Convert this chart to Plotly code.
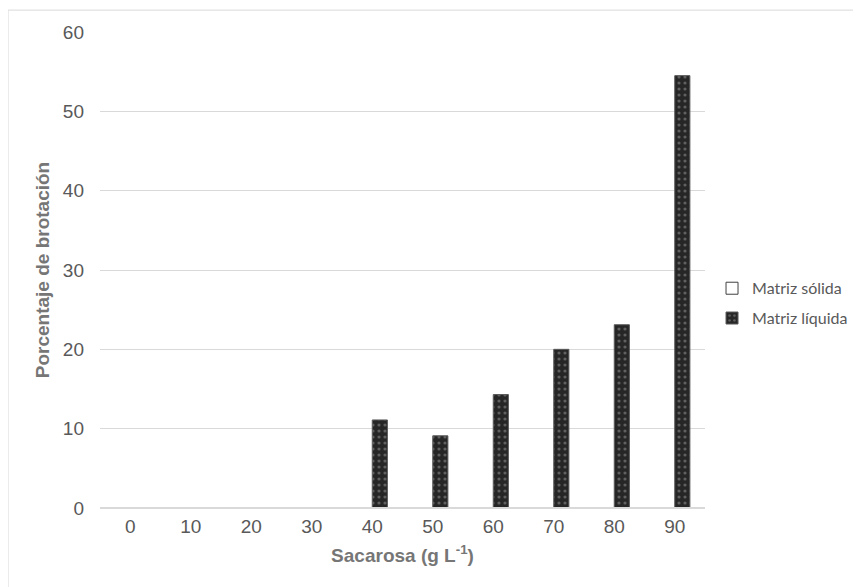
import plotly.graph_objects as go

categories = ["0", "10", "20", "30", "40", "50", "60", "70", "80", "90"]
solida = [0, 0, 0, 0, 0, 0, 0, 0, 0, 0]
liquida = [0, 0, 0, 0, 11.1, 9.1, 14.3, 20.0, 23.1, 54.5]
series_names = ["Matriz sólida", "Matriz líquida"]

fig = go.Figure()
fig.add_trace(go.Bar(
    x=categories, y=solida, name=series_names[0], legendgroup="a",
    marker=dict(color="white", line=dict(color="#404040", width=1)),
))
fig.add_trace(go.Bar(
    x=categories, y=liquida, name=series_names[1], legendgroup="b",
    marker=dict(color="#262626", line=dict(color="#595959", width=1),
                pattern=dict(shape=".", fgcolor="#9a9a9a", bgcolor="#262626",
                             size=6, solidity=0.22)),
))

axis_font = dict(family="Liberation Sans, Arial, sans-serif", size=19, color="#595959")
title_font = dict(family="Liberation Sans, Arial, sans-serif", size=19, color="#767676")

fig.update_layout(
    width=861, height=587,
    margin=dict(l=92, r=164, t=24, b=87),
    paper_bgcolor="white", plot_bgcolor="white",
    barmode="group", bargap=0.5, bargroupgap=0,
    showlegend=True,
    legend=dict(x=1.0116, xanchor="left", y=0.43, yanchor="middle",
                font=dict(family="Lato, sans-serif", size=16, color="#595959"),
                traceorder="grouped", tracegroupgap=6, itemwidth=30,
                bgcolor="rgba(0,0,0,0)"),
    xaxis=dict(tickfont=axis_font, showgrid=False, showline=False, ticks="",
               title=dict(text="<b>Sacarosa (g L<sup>-1</sup>)</b>", font=title_font, standoff=12),
               ticklabelstandoff=5),
    yaxis=dict(range=[0, 60], dtick=10, tickfont=axis_font,
               showgrid=True, gridcolor="#d9d9d9", gridwidth=1,
               zeroline=True, zerolinecolor="#d9d9d9", zerolinewidth=1,
               showline=False, ticks="", ticklabelstandoff=15,
               title=dict(text="<b>Porcentaje de brotación</b>", font=title_font, standoff=8)),
    shapes=[
        dict(type="line", xref="paper", yref="paper", x0=-0.152, x1=1.3, y0=1.046, y1=1.046,
             line=dict(color="#d9d9d9", width=1)),
        dict(type="line", xref="paper", yref="paper", x0=-0.152, x1=-0.152, y0=-0.25, y1=1.046,
             line=dict(color="#d9d9d9", width=1)),
        dict(type="line", xref="paper", yref="y", x0=0, x1=1, y0=0, y1=0, layer="above",
             line=dict(color="#d9d9d9", width=2)),
    ],
)

fig.write_html("out.html")
